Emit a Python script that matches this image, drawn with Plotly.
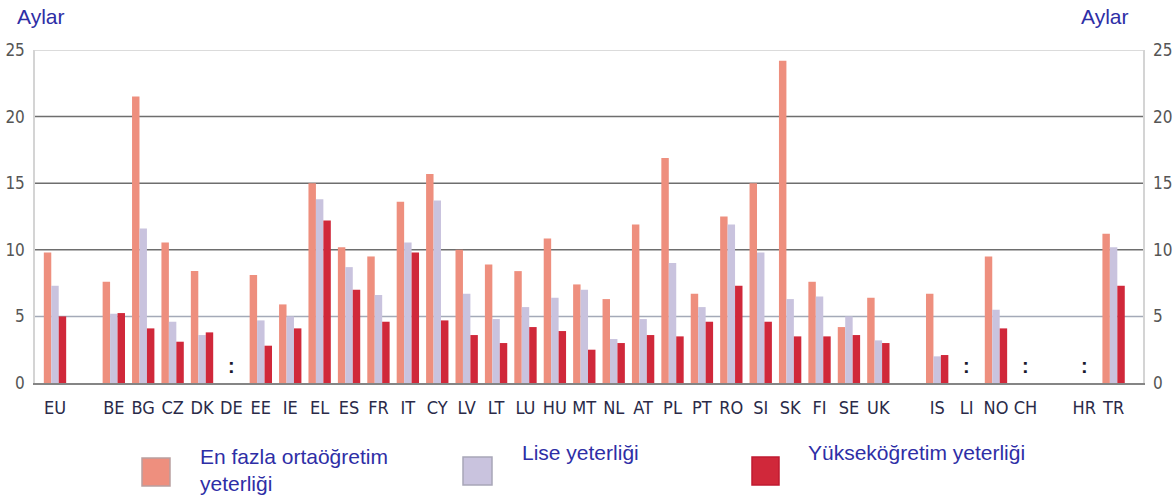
import plotly.graph_objects as go

categories = ["EU", "", "BE", "BG", "CZ", "DK", "DE", "EE", "IE", "EL", "ES", "FR", "IT", "CY",
              "LV", "LT", "LU", "HU", "MT", "NL", "AT", "PL", "PT", "RO", "SI", "SK", "FI",
              "SE", "UK", "", "IS", "LI", "NO", "CH", "", "HR", "TR"]

lower_secondary = [9.8, None, 7.6, 21.5, 10.55, 8.4, None, 8.1, 5.9, 15.0, 10.2, 9.5, 13.6, 15.7,
                   10.0, 8.9, 8.4, 10.85, 7.4, 6.3, 11.9, 16.9, 6.7, 12.5, 15.0, 24.2, 7.6,
                   4.2, 6.4, None, 6.7, None, 9.5, None, None, None, 11.2]
upper_secondary = [7.3, None, 5.2, 11.6, 4.6, 3.6, None, 4.7, 5.0, 13.8, 8.7, 6.6, 10.55, 13.7,
                   6.7, 4.8, 5.7, 6.4, 7.0, 3.3, 4.8, 9.0, 5.7, 11.9, 9.8, 6.3, 6.5,
                   5.0, 3.2, None, 2.0, None, 5.5, None, None, None, 10.2]
tertiary = [5.0, None, 5.25, 4.1, 3.1, 3.8, None, 2.8, 4.1, 12.2, 7.0, 4.6, 9.8, 4.7,
            3.6, 3.0, 4.2, 3.9, 2.5, 3.0, 3.6, 3.5, 4.6, 7.3, 4.6, 3.5, 3.5,
            3.6, 3.0, None, 2.1, None, 4.1, None, None, None, 7.3]
missing = ["DE", "LI", "CH", "HR"]

series_names = ["En fazla ortaöğretim<br>yeterliği", "Lise yeterliği", "Yükseköğretim yeterliği"]
colors = ["#EE8F7E", "#C9C3DE", "#D0283A"]
legend_borders = ["#b9a0a0", "#a8a6b8", "#c01a30"]
y_ticks = [0, 5, 10, 15, 20, 25]

# ---- layout geometry (pixels) ----
W, H = 1173, 496
ML, MR, MT, MB = 35, 30, 50, 113
PW, PH = W - ML - MR, H - MT - MB


def px_x(px):
    return (px - ML) / PW


def px_y(py):
    return (H - MB - py) / PH


x = list(range(len(categories)))
tick_idx = [i for i, c in enumerate(categories) if c]
tick_txt = [categories[i] for i in tick_idx]

fig = go.Figure()
for name, vals, col in zip(series_names, [lower_secondary, upper_secondary, tertiary], colors):
    fig.add_trace(go.Bar(x=x, y=vals, name=name.replace("<br>", " "),
                         marker=dict(color=col, line=dict(width=0)), showlegend=False))

# invisible trace for the right axis
fig.add_trace(go.Scatter(x=[x[0]], y=[0], yaxis="y2", mode="markers",
                         marker=dict(opacity=0), showlegend=False, hoverinfo="skip"))

# missing-data markers
for m in missing:
    fig.add_annotation(x=categories.index(m), y=1.3, text="<b>:</b>", showarrow=False,
                       font=dict(size=20, color="#1a1a2e", family="Liberation Sans"))

# gridlines (styled individually like the original)
grid_styles = {5: "#a4aab8", 10: "#6e6e6e", 15: "#6e6e6e", 20: "#6e6e6e", 25: "#cfcfcf"}
for gv, gc in grid_styles.items():
    fig.add_shape(type="line", xref="paper", yref="y", x0=0, x1=1, y0=gv, y1=gv,
                  line=dict(color=gc, width=1.5), layer="below")

# "Aylar" unit labels
blue = "#2E2EA6"
for ax_px in (15, 1079):
    fig.add_annotation(xref="paper", yref="paper", x=px_x(ax_px), y=px_y(3),
                       xanchor="left", yanchor="top", text="Aylar", showarrow=False,
                       font=dict(size=21, color=blue, family="Liberation Sans"))

# manual legend: swatches + labels
legend_sw = [(142, 170, 458, 486), (463, 492, 457, 485), (752, 779, 457, 485)]
legend_txt = [(198, 443), (520, 439), (806, 439)]
for name, col, bcol, (x0, x1, y0, y1), (tx, ty) in zip(series_names, colors, legend_borders,
                                                        legend_sw, legend_txt):
    fig.add_shape(type="rect", xref="paper", yref="paper",
                  x0=px_x(x0), x1=px_x(x1), y0=px_y(y0), y1=px_y(y1),
                  fillcolor=col, line=dict(color=bcol, width=1.5))
    fig.add_annotation(xref="paper", yref="paper", x=px_x(tx), y=px_y(ty),
                       xanchor="left", yanchor="top", align="left", text=name, showarrow=False,
                       font=dict(size=21, color=blue, family="Liberation Sans"))

tick_font_y = dict(size=17, color="#555555", family="DejaVu Sans Condensed")
fig.update_layout(
    width=W, height=H,
    margin=dict(l=ML, r=MR, t=MT, b=MB),
    plot_bgcolor="white", paper_bgcolor="white",
    barmode="group", bargap=0.24, bargroupgap=0.0,
    font=dict(family="Liberation Sans"),
    xaxis=dict(range=[-0.68, 37.0], tickvals=tick_idx, ticktext=tick_txt, automargin=False,
               showgrid=False, showline=True, linecolor="#858585", linewidth=1.5, mirror=False,
               ticks="", zeroline=False, ticklabelstandoff=8,
               tickfont=dict(size=18, color="#2a2a48", family="DejaVu Sans Condensed")),
    yaxis=dict(range=[0, 25], tickvals=y_ticks, showgrid=False, automargin=False,
               showline=True, linecolor="#d4d4d4", linewidth=1.5, mirror=True, zeroline=False,
               ticks="", ticklabelstandoff=5, tickfont=tick_font_y),
    yaxis2=dict(range=[0, 25], tickvals=y_ticks, overlaying="y", side="right", showgrid=False,
                automargin=False, zeroline=False, showline=False, ticks="", ticklabelstandoff=9,
                tickfont=tick_font_y),
)

fig.write_html("out.html", config={"displayModeBar": False},
               post_script="document.body.style.margin='0px';")
